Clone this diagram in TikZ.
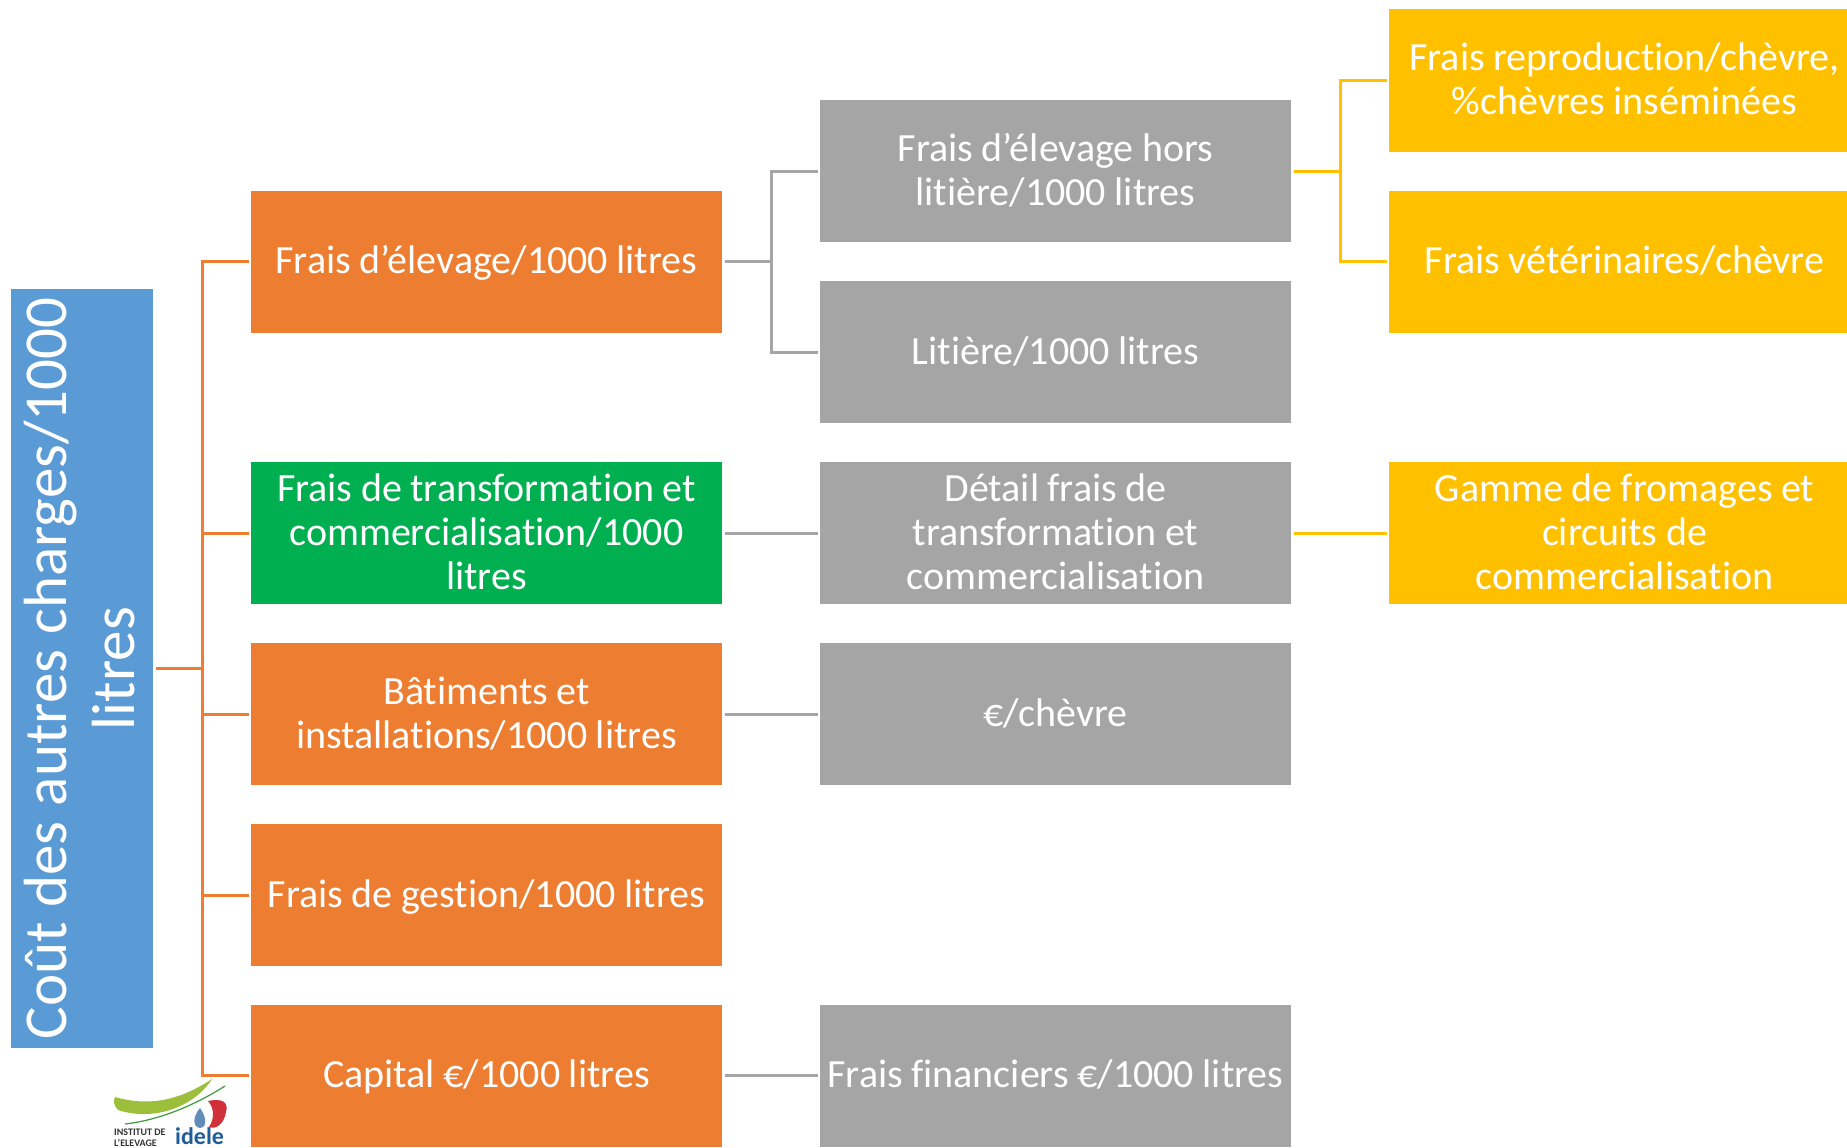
\documentclass[tikz,border=0pt]{standalone}
\usepackage{fontspec}
\setmainfont{Carlito}[Ligatures=NoCommon]
\definecolor{cblue}{HTML}{5B9BD5}
\definecolor{corange}{HTML}{ED7D31}
\definecolor{cgreen}{HTML}{00B050}
\definecolor{cgrey}{HTML}{A5A5A5}
\definecolor{cyellow}{HTML}{FFC000}
\definecolor{lgreen}{HTML}{9CBF3B}
\definecolor{dgreen}{HTML}{3E9A3C}
\definecolor{lred}{HTML}{D0303A}
\definecolor{lblue}{HTML}{1F5C99}
\tikzset{
  x=1pt,y=-1pt,
  lines/.style n args={3}{execute at begin node={\spaceskip #3\relax\vrule height #1 depth #2 width 0pt\relax},execute at end node={\vrule height #1 depth #2 width 0pt\relax}},
  boxbase/.style={rectangle,inner sep=0pt,outer sep=2.5pt,text=white,align=center,anchor=center},
  obox/.style={boxbase,lines={34pt}{10pt}{8.5pt},font=\fontsize{40}{44}\selectfont,fill=corange,minimum width=471pt,minimum height=142pt,text width=471pt},
  gbox/.style={obox,fill=cgreen},
  ybox/.style={obox,fill=cgrey},
  jbox/.style={obox,fill=cyellow},
  link/.style={line width=3pt},
}
\begin{document}
\begin{tikzpicture}
\useasboundingbox (0,0) rectangle (1847,1148);
\clip (0,0) rectangle (1847,1148);

\node[boxbase,lines={52pt}{16pt}{15pt},fill=cblue,minimum width=759pt,minimum height=142pt,text width=759pt,rotate=90,font=\fontsize{61}{68}\selectfont] (blue) at (82,668.5) {Coût des autres charges/1000\\litres};

\node[obox] (o1) at (486.5,261.5) {Frais d’élevage/1000 litres};
\node[gbox] (o2) at (486.5,533) {Frais de transformation et\\commercialisation/1000\\litres};
\node[obox] (o3) at (486.5,714) {Bâtiments et\\installations/1000 litres};
\node[obox] (o4) at (486.5,895) {Frais de gestion/1000 litres};
\node[obox] (o5) at (486.5,1075.5) {Capital €/1000 litres};

\node[ybox] (g1) at (1055.5,171) {Frais d’élevage hors\\litière/1000 litres};
\node[ybox] (g2) at (1055.5,352) {Litière/1000 litres};
\node[ybox] (g3) at (1055.5,533) {Détail frais de\\transformation et\\commercialisation};
\node[ybox] (g4) at (1055.5,714) {€/chèvre};
\node[ybox] (g5) at (1055.5,1075.5) {Frais financiers €/1000 litres};

\node[jbox] (y1) at (1624.5,80.5) {Frais reproduction/chèvre,\\\%chèvres inséminées};
\node[jbox] (y2) at (1624.5,261.5) {Frais vétérinaires/chèvre};
\node[jbox] (y3) at (1624.5,533) {Gamme de fromages et\\circuits de\\commercialisation};

% orange tree
\coordinate (t0) at (202,668.5);
\draw[link,corange] (blue.south) -- (t0);
\draw[link,corange] (t0 |- o1.west) -- (o1.west);
\draw[link,corange] (t0 |- o2.west) -- (o2.west);
\draw[link,corange] (t0 |- o3.west) -- (o3.west);
\draw[link,corange] (t0 |- o4.west) -- (o4.west);
\draw[link,corange] (t0 |- o5.west) -- (o5.west);
\draw[link,corange,line cap=rect] (t0 |- o1.west) -- (t0 |- o5.west);

% grey links
\coordinate (t1) at (771,261.5);
\draw[link,cgrey] (o1.east) -- (t1);
\draw[link,cgrey,line cap=rect] (t1 |- g1.west) -- (t1 |- g2.west);
\draw[link,cgrey] (t1 |- g1.west) -- (g1.west);
\draw[link,cgrey] (t1 |- g2.west) -- (g2.west);
\draw[link,cgrey] (o2.east) -- (g3.west);
\draw[link,cgrey] (o3.east) -- (g4.west);
\draw[link,cgrey] (o5.east) -- (g5.west);

% yellow links
\coordinate (t2) at (1340,171);
\draw[link,cyellow] (g1.east) -- (t2);
\draw[link,cyellow,line cap=rect] (t2 |- y1.west) -- (t2 |- y2.west);
\draw[link,cyellow] (t2 |- y1.west) -- (y1.west);
\draw[link,cyellow] (t2 |- y2.west) -- (y2.west);
\draw[link,cyellow] (g3.east) -- (y3.west);

% logo
\fill[lgreen] (115,1097) .. controls (150,1107) and (180,1100) .. (212,1079) .. controls (195,1106) and (155,1122) .. (118,1110) .. controls (114,1106) and (113,1101) .. (115,1097) -- cycle;
\draw[dgreen,line width=1.2pt] (125,1124) .. controls (160,1120) and (195,1105) .. (225,1086);
\fill[lred] (208,1101) .. controls (222,1098) and (229,1102) .. (226,1112) .. controls (224,1124) and (216,1130) .. (209,1127) .. controls (215,1118) and (214,1108) .. (208,1101) -- cycle;
\fill[lblue!70] (200,1108) .. controls (193,1116) and (192,1127) .. (200,1128) .. controls (208,1127) and (206,1116) .. (200,1108) -- cycle;
\node[inner sep=0pt,anchor=west,align=left,text=black!80,font=\fontsize{10}{10.5}\bfseries\selectfont] (lt) at (114,1137.5) {INSTITUT DE\\L’ELEVAGE};
\node[inner sep=0pt,anchor=base west,text=lblue,font=\fontsize{24}{24}\bfseries\selectfont] (li) at (175,1144.5) {idele};
\end{tikzpicture}
\end{document}
